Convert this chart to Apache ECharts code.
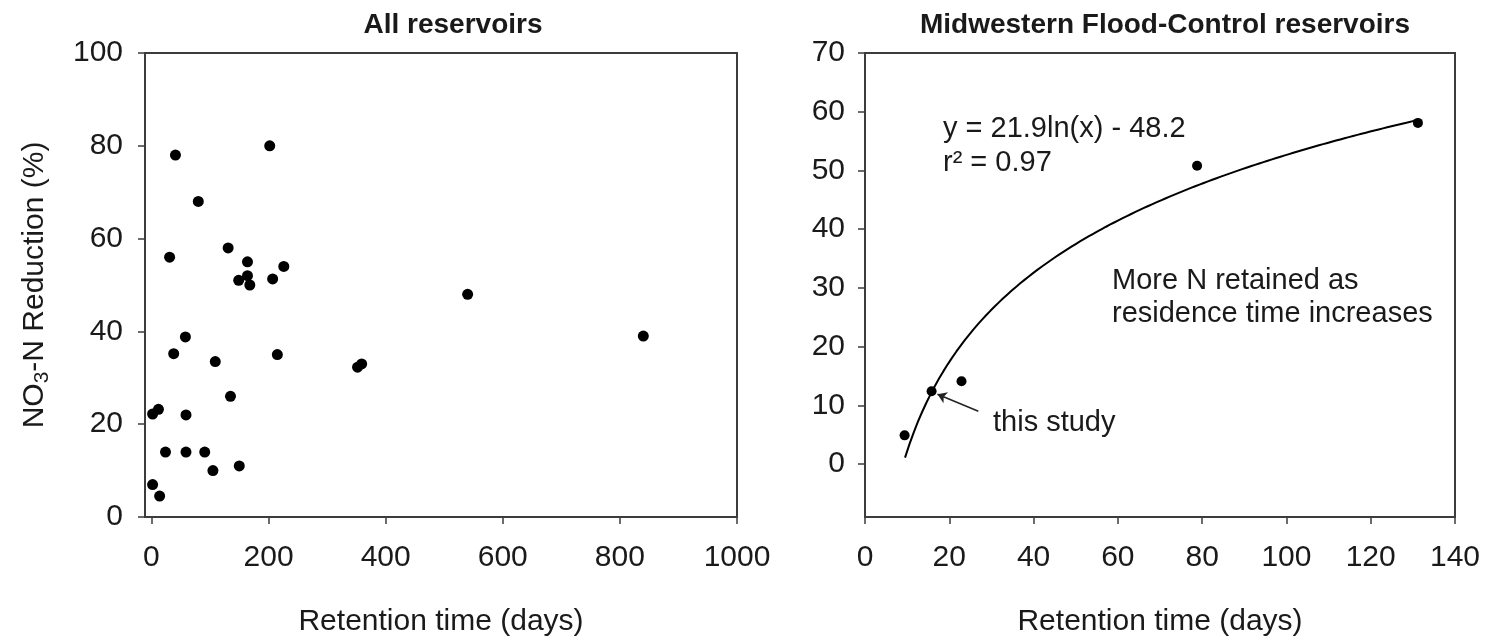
<!DOCTYPE html>
<html><head><meta charset="utf-8">
<script src="https://cdn.jsdelivr.net/npm/echarts@6/dist/echarts.min.js"></script>
<style>html,body{margin:0;padding:0;background:#fff}#c{width:1488px;height:640px}</style>
</head><body><div id="c"></div>
<script>
// ---- Data ----
const allRetention = [41, 202, 80, 31, 131, 164, 226, 164, 149, 168, 207, 58, 38, 109, 215, 135, 12, 2, 59, 24, 59, 91, 105, 150, 2, 14, 540, 352, 359, 840];
const allReduction = [78, 80, 68, 56, 58, 55, 54, 52, 51, 50, 51.3, 38.8, 35.2, 33.5, 35, 26, 23.2, 22.2, 22, 14, 14, 14, 10, 11, 7, 4.5, 48, 32.3, 33.0, 39];
const mwRetention = [9.4, 15.8, 22.9, 78.8, 131.2];
const mwReduction = [4.9, 12.4, 14.1, 50.8, 58.1];
// fitted curve shown in the chart: y = 21.9 ln(x) - 48.2, drawn for x in [9.5, 131]
const fitA = 21.9, fitB = -48.2, fitXStart = 9.5, fitXEnd = 131;
const leftXTicks = [0, 200, 400, 600, 800, 1000];
const leftYTicks = [0, 20, 40, 60, 80, 100];
const rightXTicks = [0, 20, 40, 60, 80, 100, 120, 140];
const rightYTicks = [0, 10, 20, 30, 40, 50, 60, 70];
const arrowFrom = [26.9, 9.0], arrowTo = [17.2, 11.9];

const FONT = '"Liberation Sans", Arial, Helvetica, sans-serif';
const INK = '#1a1a1a', LINE = '#3c3c3c';

const fitData = [];
for (let i = 0; i <= 120; i++) {
  const x = fitXStart + (fitXEnd - fitXStart) * i / 120;
  fitData.push([x, fitA * Math.log(x) + fitB]);
}
const plain = v => String(v);

function axisCommon() {
  return {
    axisLine: {show: true, onZero: false, lineStyle: {color: LINE, width: 2}},
    axisTick: {show: true, inside: false, length: 7, lineStyle: {color: LINE, width: 1.5}},
    splitLine: {show: false},
    axisLabel: {color: INK, fontFamily: FONT, fontSize: 30, formatter: plain},
    nameTextStyle: {color: INK, fontFamily: FONT, fontSize: 30}
  };
}

const chart = echarts.init(document.getElementById('c'), null, {renderer: 'canvas'});
chart.setOption({
  backgroundColor: '#ffffff',
  animation: false,
  title: [
    {text: 'All reservoirs', left: 448, top: 6, textAlign: 'center',
     textStyle: {fontFamily: FONT, fontSize: 28, fontWeight: 'bold', color: INK}},
    {text: 'Midwestern Flood-Control reservoirs', left: 1160, top: 6, textAlign: 'center',
     textStyle: {fontFamily: FONT, fontSize: 28, fontWeight: 'bold', color: INK}}
  ],
  grid: [
    {left: 145, top: 53, width: 592, height: 464, show: true, borderColor: LINE, borderWidth: 2,
     backgroundColor: 'transparent', containLabel: false, outerBoundsMode: 'none'},
    {left: 865, top: 53, width: 590, height: 464, show: true, borderColor: LINE, borderWidth: 2,
     backgroundColor: 'transparent', containLabel: false, outerBoundsMode: 'none'}
  ],
  xAxis: [
    Object.assign(axisCommon(), {
      gridIndex: 0, type: 'value', min: -11, max: 1000,
      name: 'Retention time (days)', nameLocation: 'middle', nameGap: 90,
      axisTick: {show: true, length: 7, lineStyle: {color: LINE, width: 1.5}, customValues: leftXTicks},
      axisLabel: {color: INK, fontFamily: FONT, fontSize: 30, margin: 26, customValues: leftXTicks, formatter: plain}
    }),
    Object.assign(axisCommon(), {
      gridIndex: 1, type: 'value', min: 0, max: 140, interval: 20,
      name: 'Retention time (days)', nameLocation: 'middle', nameGap: 90,
      axisLabel: {color: INK, fontFamily: FONT, fontSize: 30, margin: 26, formatter: plain}
    })
  ],
  yAxis: [
    Object.assign(axisCommon(), {
      gridIndex: 0, type: 'value', min: 0, max: 100, interval: 20,
      name: '{n|NO}{s|3}{n|-N Reduction (%)}', nameLocation: 'middle', nameGap: 92,
      nameTextStyle: {color: INK, fontFamily: FONT, fontSize: 30,
        rich: {n: {fontFamily: FONT, fontSize: 30, color: INK, lineHeight: 36},
               s: {fontFamily: FONT, fontSize: 21, color: INK, verticalAlign: 'bottom', lineHeight: 36, padding: [12, 0, 0, 0]}}},
      axisLabel: {color: INK, fontFamily: FONT, fontSize: 30, margin: 22, formatter: plain}
    }),
    Object.assign(axisCommon(), {
      gridIndex: 1, type: 'value', min: -9, max: 70,
      axisTick: {show: true, length: 7, lineStyle: {color: LINE, width: 1.5}, customValues: rightYTicks},
      axisLabel: {color: INK, fontFamily: FONT, fontSize: 30, margin: 20, customValues: rightYTicks, formatter: plain}
    })
  ],
  series: [
    {type: 'scatter', xAxisIndex: 0, yAxisIndex: 0, symbol: 'circle', symbolSize: 11,
     itemStyle: {color: '#000', opacity: 1},
     data: allRetention.map((x, i) => [x, allReduction[i]])},
    {type: 'line', xAxisIndex: 1, yAxisIndex: 1, showSymbol: false, smooth: false,
     lineStyle: {color: '#000', width: 2}, data: fitData, z: 2},
    {type: 'scatter', xAxisIndex: 1, yAxisIndex: 1, symbol: 'circle', symbolSize: 10,
     itemStyle: {color: '#000', opacity: 1}, z: 3,
     data: mwRetention.map((x, i) => [x, mwReduction[i]]),
     markLine: {silent: true, symbol: ['none', 'arrow'], symbolSize: [9, 9],
       lineStyle: {color: '#222', width: 1.5, type: 'solid'}, label: {show: false},
       data: [[{coord: arrowFrom}, {coord: arrowTo}]]}}
  ],
  graphic: [
    {type: 'text', left: 943, top: 114, style: {text: 'y = 21.9ln(x) - 48.2', font: '29px ' + FONT, fill: INK}},
    {type: 'text', left: 943, top: 148, style: {text: 'r² = 0.97', font: '29px ' + FONT, fill: INK}},
    {type: 'text', left: 1112, top: 264, style: {text: 'More N retained as\nresidence time increases', font: '29px ' + FONT, fill: INK, lineHeight: 33}},
    {type: 'text', left: 993, top: 408, style: {text: 'this study', font: '29px ' + FONT, fill: INK}}
  ]
});
</script>
</body></html>
